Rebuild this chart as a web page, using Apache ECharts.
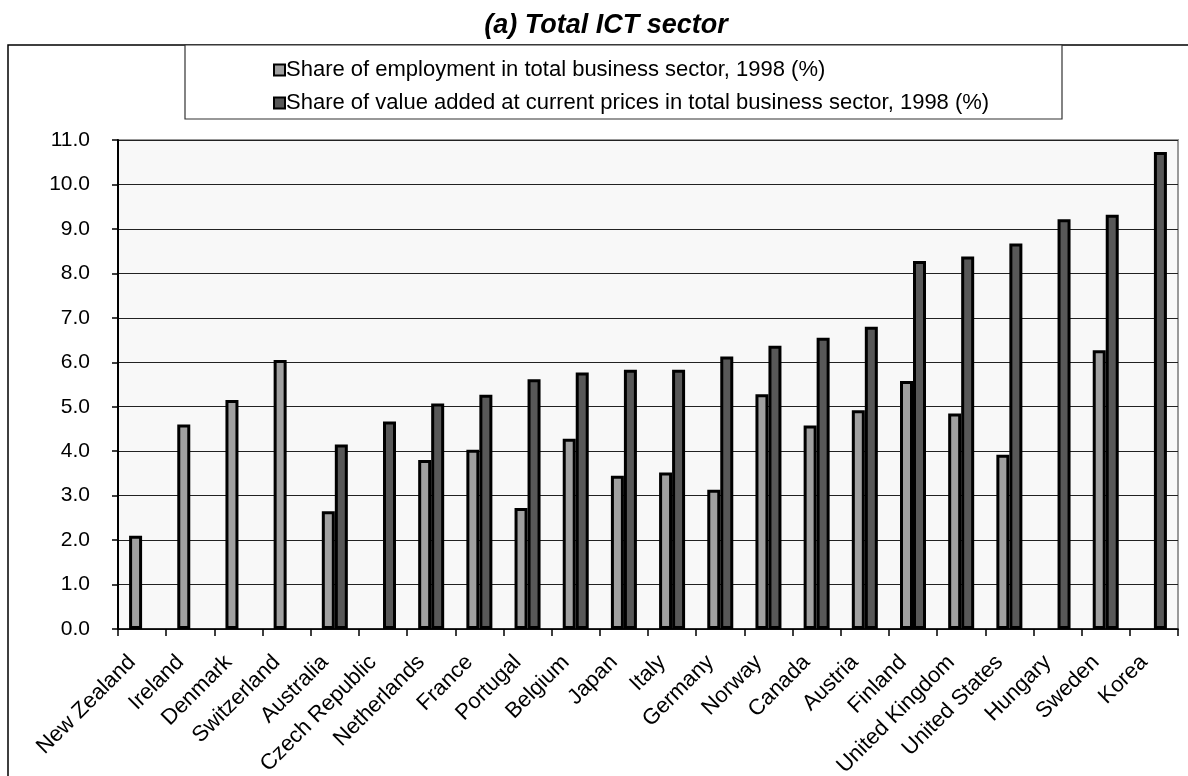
<!DOCTYPE html>
<html>
<head>
<meta charset="utf-8">
<title>Total ICT sector</title>
<script src="https://cdn.jsdelivr.net/npm/echarts@6/dist/echarts.min.js"></script>
<style>
  html, body { margin: 0; padding: 0; background: #fff; }
  #main { width: 1188px; height: 776px; }
</style>
</head>
<body>
<div id="main"></div>
<script>
// data
var countries = ["New Zealand", "Ireland", "Denmark", "Switzerland", "Australia", "Czech Republic",
    "Netherlands", "France", "Portugal", "Belgium", "Japan", "Italy", "Germany", "Norway",
    "Canada", "Austria", "Finland", "United Kingdom", "United States", "Hungary", "Sweden", "Korea"];
var employmentShare = [2.1, 4.6, 5.15, 6.05, 2.65, null, 3.8, 4.03, 2.72, 4.28, 3.45, 3.52,
    3.13, 5.28, 4.58, 4.92, 5.58, 4.85, 3.92, null, 6.27, null];
var valueAddedShare = [null, null, null, null, 4.15, 4.67, 5.07, 5.27, 5.62, 5.77, 5.83, 5.83,
    6.13, 6.37, 6.55, 6.8, 8.28, 8.38, 8.67, 9.22, 9.32, 10.73];
var seriesNames = ["Share of employment in total business sector, 1998 (%)",
    "Share of value added at current prices in total business sector, 1998 (%)"];
var yTicks = { min: 0, max: 11, interval: 1 };

var FONT = "Liberation Sans, Arial, sans-serif";

var chart = echarts.init(document.getElementById("main"));

var option = {
    animation: false,
    title: {
        text: "(a) Total ICT sector",
        left: 601,
        textAlign: "center",
        top: 7,
        textStyle: { fontFamily: FONT, fontSize: 27, fontWeight: "bold", fontStyle: "italic", color: "#000" }
    },
    graphic: [
        // outer chart border (runs off the right and bottom edge)
        { type: "rect", shape: { x: 8, y: 45, width: 1200, height: 800 },
          style: { fill: null, stroke: "#000", lineWidth: 1.5 }, z: -1 },
        // legend box
        { type: "rect", shape: { x: 185, y: 45, width: 877, height: 74 },
          style: { fill: "#fff", stroke: "#333", lineWidth: 1.2 }, z: 0 }
    ],
    legend: {
        orient: "vertical",
        left: 268,
        top: 54,
        itemWidth: 11,
        itemHeight: 11,
        itemGap: 11,
        icon: "rect",
        textStyle: { fontFamily: FONT, fontSize: 22, color: "#000", padding: [0, 0, 0, -4] },
        z: 5
    },
    grid: {
        left: 118, right: 10, top: 140, bottom: 147,
        outerBoundsMode: "none",
        containLabel: false,
        show: true,
        backgroundColor: "#f8f8f8",
        borderColor: "#999",
        borderWidth: 2
    },
    xAxis: {
        type: "category",
        data: countries,
        axisLine: { lineStyle: { color: "#000", width: 1.5 } },
        axisTick: { show: true, length: 7, lineStyle: { color: "#000", width: 1.5 } },
        axisLabel: {
            interval: 0,
            rotate: 45,
            margin: 20,
            padding: [0, 14, 0, 0],
            fontFamily: FONT,
            fontSize: 22,
            color: "#000"
        }
    },
    yAxis: {
        type: "value",
        min: yTicks.min,
        max: yTicks.max,
        interval: yTicks.interval,
        axisLine: { show: true, lineStyle: { color: "#000", width: 2 } },
        axisTick: { show: true, length: 6, lineStyle: { color: "#000", width: 1.5 } },
        axisLabel: {
            margin: 28,
            fontFamily: FONT,
            fontSize: 21,
            color: "#000",
            formatter: function (v) { return v.toFixed(1); }
        },
        splitLine: { lineStyle: { color: "#222", width: 1 } }
    },
    series: [{
        name: seriesNames[0],
        type: "bar",
        data: employmentShare,
        barWidth: 13,
        barGap: "0%",
        itemStyle: { color: "#a0a0a0", borderColor: "#000", borderWidth: 3 }
    }, {
        name: seriesNames[1],
        type: "bar",
        data: valueAddedShare,
        barWidth: 13,
        barGap: "0%",
        itemStyle: { color: "#585858", borderColor: "#000", borderWidth: 3 }
    }]
};

chart.setOption(option);
</script>
</body>
</html>
